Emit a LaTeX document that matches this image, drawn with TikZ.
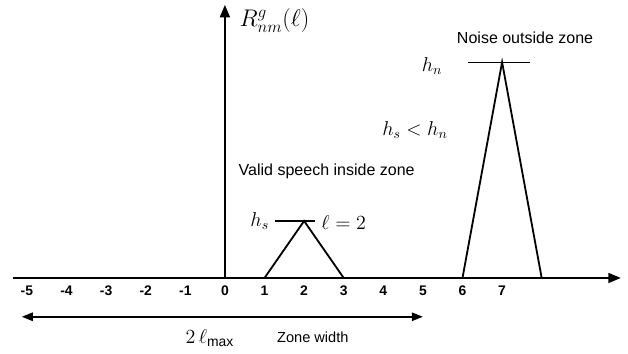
\documentclass[tikz,border=0pt]{standalone}
\usepackage{amsmath}
\usepackage{fontspec}
\setmainfont{Liberation Sans}
\usepackage{tikz}
\usetikzlibrary{arrows.meta}

\begin{document}
\begin{tikzpicture}[x=1cm,y=1cm,
    axis/.style={line width=1.6pt,-{Triangle[length=9pt,width=7pt]}},
    peak/.style={line width=1.3pt,line join=miter},
    lvl/.style={line width=0.9pt},
    txt/.style={font=\fontsize{11.5}{13}\selectfont},
    mth/.style={font=\Large}]
    \useasboundingbox (-5.68,-1.92) rectangle (10.18,7.02);
    \draw[axis] (-5.35,0) -- (10,0);
    \draw[axis] (0,0) -- (0,6.9);
    \node[mth,anchor=west,font=\LARGE] (rlbl) at (0.25,6.5) {$R^{g}_{nm}(\ell)$};
    \foreach \x in {-5,...,7} \node[font=\fontsize{10}{12}\selectfont\bfseries] (t\x) at (\x,-0.33) {\x};
    \draw[peak] (1,0) -- (2,1.44) -- (3,0);
    \draw[lvl] (1.26,1.44) -- (2.27,1.44);
    \node[mth] (hs) at (0.88,1.43) {$h_s$};
    \node[mth] (lz) at (3.0,1.41) {$\ell = 2$};
    \node[txt] (valid) at (2.57,2.68) {Valid speech inside zone};
    \node[mth] (cmp) at (4.8,3.74) {$h_s < h_n$};
    \draw[peak] (6,0) -- (7,5.45) -- (8,0);
    \draw[lvl] (6.14,5.45) -- (7.7,5.45);
    \node[mth] (hn) at (5.23,5.35) {$h_n$};
    \node[txt] (noise) at (7.58,6.07) {Noise outside zone};
    \draw[line width=1.4pt,{Triangle[length=8pt,width=6pt]}-{Triangle[length=8pt,width=6pt]}] (-5.13,-0.98) -- (5,-0.98);
    \node[mth,font=\Large] (zw) at (-0.38,-1.52) {$2\,\ell_{\max}$};
    \node[txt,font=\fontsize{10.5}{12}\selectfont] (zlbl) at (2.22,-1.49) {Zone width};
  \end{tikzpicture}
\end{document}
